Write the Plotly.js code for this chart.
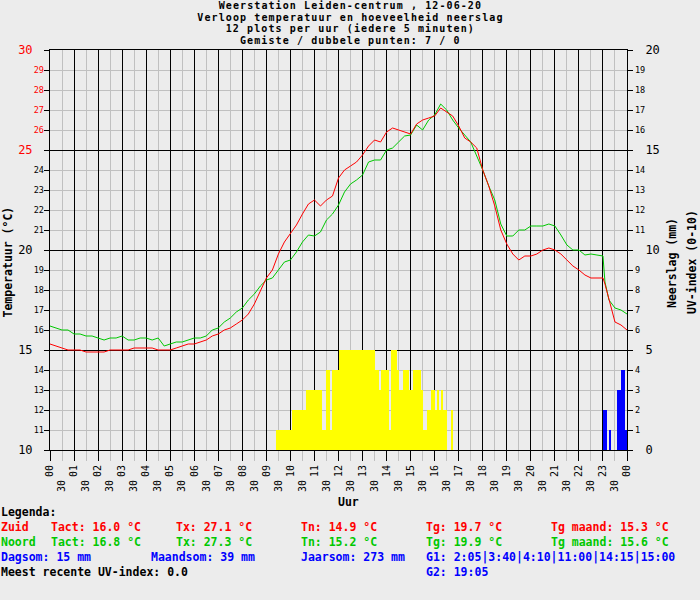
<!DOCTYPE html>
<html>
<head>
<meta charset="utf-8">
<script src="https://cdn.plot.ly/plotly-3.0.1.min.js"></script>
<style>
body{margin:0;background:#ececec}
g.annotation[data-index="0"] text, g.annotation[data-index="1"] text,
g.annotation[data-index="2"] text, g.annotation[data-index="3"] text { letter-spacing: 1.1px; }
</style>
</head>
<body>
<div id="graph" style="width:700px;height:600px"></div>
<script>
// meettijden (uu:mm), gedeeld door zuid en noord
let tijd = [
    "00:00","00:15","00:30","00:45","01:00","01:15","01:30","01:45",
    "02:00","02:15","02:30","02:45","03:00","03:15","03:30","03:45",
    "04:00","04:15","04:30","04:45","05:00","05:15","05:30","05:45",
    "06:00","06:15","06:30","06:45","07:00","07:15","07:30","07:45",
    "08:00","08:15","08:30","08:45","09:00","09:15","09:30","09:45",
    "10:00","10:15","10:30","10:45","11:00","11:15","11:30","11:45",
    "12:00","12:15","12:30","12:45","13:00","13:15","13:30","13:45",
    "14:00","14:15","14:30","14:45","15:00","15:15","15:30","15:45",
    "16:00","16:15","16:30","16:45","17:00","17:15","17:30","17:45",
    "18:00","18:15","18:30","18:45","19:00","19:15","19:30","19:45",
    "20:00","20:15","20:30","20:45","21:00","21:15","21:30","21:45",
    "22:00","22:15","22:30","22:45","23:00","23:05","23:15","23:30","23:45",
    "24:00"
];

let zuid = [
    15.3, 15.2, 15.1, 15.0, 15.0, 15.0, 14.9, 14.9,
    14.9, 14.9, 15.0, 15.0, 15.0, 15.0, 15.1, 15.1,
    15.1, 15.1, 15.0, 15.0, 15.0, 15.1, 15.2, 15.3,
    15.3, 15.4, 15.5, 15.7, 15.8, 16.0, 16.1, 16.3,
    16.5, 16.8, 17.3, 17.95, 18.6, 19.0, 19.8, 20.4,
    20.8, 21.25, 21.8, 22.3, 22.5, 22.2, 22.5, 22.7,
    23.6, 24.0, 24.2, 24.4, 24.75, 25.2, 25.5, 25.4,
    25.9, 26.1, 26.0, 25.9, 25.8, 26.3, 26.5, 26.6,
    26.7, 27.1, 26.9, 26.7, 26.2, 25.6, 25.4, 25.1,
    24.0, 23.2, 22.2, 21.0, 20.3, 19.8, 19.5, 19.7,
    19.7, 19.8, 20.0, 20.1, 20.0, 19.8, 19.5, 19.2,
    19.0, 18.75, 18.6, 18.6, 18.6, 18.3, 17.5, 16.4, 16.25,
    16.0
];

let noord = [
    16.2, 16.1, 16.0, 16.0, 15.8, 15.8, 15.7, 15.7,
    15.6, 15.5, 15.6, 15.6, 15.7, 15.5, 15.5, 15.6,
    15.6, 15.5, 15.6, 15.2, 15.3, 15.4, 15.4, 15.5,
    15.6, 15.6, 15.7, 16.0, 16.1, 16.4, 16.6, 16.9,
    17.1, 17.5, 17.8, 18.2, 18.5, 18.6, 19.0, 19.4,
    19.5, 19.9, 20.4, 20.75, 20.7, 20.9, 21.5, 21.8,
    22.25, 22.9, 23.3, 23.5, 23.75, 24.4, 24.5, 24.5,
    25.0, 25.1, 25.4, 25.7, 25.75, 26.25, 26.0, 26.5,
    26.75, 27.3, 27.0, 26.5, 26.1, 25.75, 25.4, 24.7,
    24.0, 23.2, 22.5, 21.3, 20.7, 20.7, 21.0, 21.0,
    21.2, 21.2, 21.2, 21.3, 21.2, 20.75, 20.25, 20.0,
    20.0, 19.75, 19.8, 19.75, 19.7, 18.4, 17.5, 17.1, 17.0,
    16.8
];

// UV-index per 5 minuten, vanaf 09:25
let uvStart = "09:25";
let uv = [
    1, 1, 1, 1, 1, 1, 1, 1,
    2, 2, 2, 2, 2, 2, 2,
    3, 3, 3, 3, 3, 3, 3, 3,
    1, 1, 4, 4, 1, 4, 4, 4,
    5, 5, 5, 5, 5, 5, 5, 5, 5, 5, 5, 5, 5, 5, 5, 5, 5, 5,
    4, 4, 3, 4, 4, 4, 4, 1, 5, 5, 5, 4,
    3, 3, 4, 4, 4, 3, 3, 4, 4, 4, 4, 3,
    1, 1, 2, 2, 3, 3, 2, 3, 2, 3, 2, 2,
    0, 0, 2
];

// neerslag per 5 minuten
let regenTijd = ["23:00", "23:05", "23:15", "23:35", "23:40", "23:45", "23:50", "23:55"];
let regen = [2, 2, 1, 3, 3, 4, 4, 1];

let uurLabels = ["00","01","02","03","04","05","06","07","08","09","10","11",
                 "12","13","14","15","16","17","18","19","20","21","22","23","00"];

let titelRegels = [
    "Weerstation Leiden-centrum , 12-06-20",
    "Verloop temperatuur en hoeveelheid neerslag",
    "12 plots per uur (iedere 5 minuten)",
    "Gemiste / dubbele punten: 7 / 0"
];

let zuidTekst = ["Zuid", "Tact: 16.0 °C", "Tx: 27.1 °C", "Tn: 14.9 °C", "Tg: 19.7 °C", "Tg maand: 15.3 °C"];
let noordTekst = ["Noord", "Tact: 16.8 °C", "Tx: 27.3 °C", "Tn: 15.2 °C", "Tg: 19.9 °C", "Tg maand: 15.6 °C"];
let somTekst = ["Dagsom: 15 mm", "Maandsom: 39 mm", "Jaarsom: 273 mm", "G1: 2:05|3:40|4:10|11:00|14:15|15:00"];

const ROOD = "#ff0000", GROEN = "#00c800", BLAUW = "#0000ff";
const FONT = '"DejaVu Sans Mono", monospace';

function uren(t) {
    let p = t.split(":");
    return +p[0] + p[1] / 60;
}

let uvStartUur = uren(uvStart);
let uvX = uv.map((v, i) => uvStartUur + i / 12);

// pixel -> paper
function px(x) { return (x - 50) / 577; }
function py(y) { return (450 - y) / 400; }

function tekst(x, y, txt, kleur, extra) {
    return Object.assign({
        x: px(x), y: py(y), xref: "paper", yref: "paper",
        text: "<b>" + txt + "</b>", showarrow: false,
        xanchor: "left", yanchor: "middle", borderpad: 0,
        font: {family: FONT, size: 11.5, color: kleur || "#000"}
    }, extra || {});
}

function plot() {
    let halfUur = [], halfTekst = [], heleGraden = [];
    for (let i = 0; i < 24; i++) { halfUur.push(i + 0.5); halfTekst.push("30"); }
    for (let i = 10; i <= 30; i++) heleGraden.push(i);

    let kleinLinks = heleGraden.filter(v => v % 5 != 0);
    let kleinRechts = kleinLinks.map(v => v - 10);

    // UV op de rechteras, regen op de overlappende kopie van die as
    let uvBars = {
        x: uvX, y: uv, type: "bar", xaxis: "x", yaxis: "y2",
        width: 1 / 12, offset: 0,
        marker: {color: "#ffff00", line: {width: 0}},
        hoverinfo: "skip", showlegend: false
    };
    let regenBars = {
        x: regenTijd.map(uren), y: regen, type: "bar", xaxis: "x2", yaxis: "y4",
        width: 1 / 12, offset: 0,
        marker: {color: BLAUW, line: {width: 0}},
        hoverinfo: "skip", showlegend: false
    };
    let noordLijn = {
        x: tijd.map(uren), y: noord, type: "scatter", mode: "lines",
        line: {color: GROEN, width: 1}, showlegend: false
    };
    let zuidLijn = {
        x: tijd.map(uren), y: zuid, type: "scatter", mode: "lines",
        xaxis: "x2", yaxis: "y3",
        line: {color: ROOD, width: 1}, showlegend: false
    };

    let ann = [];
    titelRegels.forEach((t, i) => ann.push(tekst(350, 6 + 11.4 * i, t, "#000",
        {xanchor: "center", font: {family: FONT, size: 10, color: "#000"}})));
    ann.push(tekst(7.5, 262, "Temperatuur (°C)", "#000", {xanchor: "center", textangle: -90}));
    ann.push(tekst(672, 263, "Neerslag (mm)", "#000", {xanchor: "center", textangle: -90}));
    ann.push(tekst(692, 262, "UV-index (0-10)", "#000", {xanchor: "center", textangle: -90}));
    ann.push(tekst(348, 502, "Uur", "#000", {xanchor: "center"}));
    ann.push(tekst(0, 512, "Legenda:", "#000"));

    let kolommen = [0, 50, 175, 300, 425, 550];
    zuidTekst.forEach((t, i) => ann.push(tekst(kolommen[i], 527, t, ROOD)));
    noordTekst.forEach((t, i) => ann.push(tekst(kolommen[i], 542, t, GROEN)));
    let somKol = [0, 150, 300, 425];
    somTekst.forEach((t, i) => ann.push(tekst(somKol[i], 557, t, BLAUW)));
    ann.push(tekst(0, 572, "Meest recente UV-index: 0.0", "#000"));
    ann.push(tekst(425, 572, "G2: 19:05", BLAUW));

    let groot = v => (v >= 25 ? '<span style="color:' + ROOD + '">' + v + '</span>' : String(v));
    let klein = v => (v > 25 ? '<span style="color:' + ROOD + '">' + v + '</span>' : String(v));

    let layout = {
        width: 700, height: 600,
        margin: {l: 50, r: 73, t: 50, b: 150},
        paper_bgcolor: "#ececec", plot_bgcolor: "#ececec",
        showlegend: false, bargap: 0,
        font: {family: FONT, color: "#000"},
        xaxis: {
            range: [0, 24], tickmode: "array", tickvals: uurLabels.map((t, i) => i), ticktext: uurLabels,
            tickangle: -90, tickfont: {family: FONT, size: 10},
            ticks: "outside", ticklen: 10, tickcolor: "#000", tickwidth: 1,
            showgrid: true, gridcolor: "#000", gridwidth: 1, zeroline: false,
            showline: true, mirror: true, linecolor: "#000", linewidth: 1,
            minor: {tickvals: halfUur, ticks: "outside", ticklen: 10, tickcolor: "#c0c0c0",
                    showgrid: true, gridcolor: "#c0c0c0", gridwidth: 1}
        },
        xaxis2: {
            overlaying: "x", anchor: "y", side: "bottom", range: [0, 24],
            tickmode: "array", tickvals: halfUur, ticktext: halfTekst,
            tickangle: -90, tickfont: {family: FONT, size: 10},
            ticks: "", showgrid: false, zeroline: false, showline: false,
            ticklabelstandoff: 27
        },
        yaxis: {
            range: [10, 30], tickmode: "array", tickvals: [10, 15, 20, 25, 30],
            ticktext: [10, 15, 20, 25, 30].map(groot),
            tickfont: {family: FONT, size: 12},
            ticks: "outside", ticklen: 5, tickcolor: "#000",
            showgrid: true, gridcolor: "#000", zeroline: false,
            showline: true, mirror: true, linecolor: "#000", linewidth: 1,
            ticklabelstandoff: 9,
            minor: {tickvals: heleGraden, ticks: "outside", ticklen: 5, tickcolor: "#000",
                    showgrid: true, gridcolor: "#c0c0c0", gridwidth: 1}
        },
        yaxis3: {
            overlaying: "y", side: "left", range: [10, 30],
            tickmode: "array", tickvals: kleinLinks, ticktext: kleinLinks.map(klein),
            tickfont: {family: FONT, size: 8.5},
            ticks: "", showgrid: false, zeroline: false, showline: false,
            ticklabelstandoff: 5
        },
        yaxis2: {
            overlaying: "y", side: "right", range: [0, 20],
            tickmode: "array", tickvals: [0, 5, 10, 15, 20],
            tickfont: {family: FONT, size: 12},
            ticks: "outside", ticklen: 5, tickcolor: "#000",
            showgrid: false, zeroline: false, showline: false,
            ticklabelstandoff: 10,
            minor: {tickvals: heleGraden.map(v => v - 10), ticks: "outside", ticklen: 5, tickcolor: "#000", showgrid: false}
        },
        yaxis4: {
            overlaying: "y", side: "right", range: [0, 20],
            tickmode: "array", tickvals: kleinRechts, ticktext: kleinRechts.map(String),
            tickfont: {family: FONT, size: 8.5},
            ticks: "", showgrid: false, zeroline: false, showline: false,
            ticklabelstandoff: 7
        },
        annotations: ann
    };

    let data = [uvBars, regenBars, noordLijn, zuidLijn];
    Plotly.newPlot("graph", data, layout, {staticPlot: true});
}

plot();
</script>
</body>
</html>
